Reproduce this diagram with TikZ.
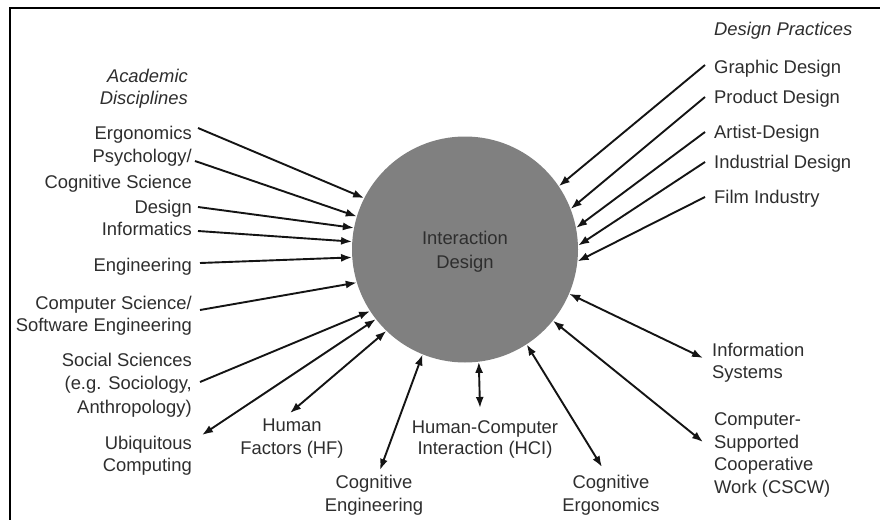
\documentclass[tikz,border=0pt]{standalone}
\usepackage{fontspec}
\setmainfont{Liberation Sans}
\usetikzlibrary{arrows.meta}
\definecolor{txtgray}{HTML}{2E2E2E}
\definecolor{arrowc}{HTML}{141414}
\definecolor{discgray}{HTML}{808080}
\begin{document}
\begin{tikzpicture}[x=1pt,y=-1pt,
  lbl/.style={font=\fontsize{18.4}{22}\selectfont, text=txtgray, inner sep=0pt, yshift=-4pt},
  lft/.style={lbl, anchor=mid east},
  rgt/.style={lbl, anchor=mid west},
  ctr/.style={lbl, anchor=mid},
  ttl/.style={font=\fontsize{18.4}{22}\selectfont\itshape},
  conn/.style={line width=1.9pt, draw=arrowc, -{Latex[length=11pt,width=8pt]}},
  both/.style={line width=1.9pt, draw=arrowc, {Latex[length=11pt,width=8pt]}-{Latex[length=11pt,width=8pt]}},
]
\useasboundingbox (0,0) rectangle (880,519);
\fill[white] (0,0) rectangle (880,519);
% frame
\draw[line width=2.8pt, black] (10,530) -- (10,8) -- (890,8);

% central disc
\node[circle, fill=discgray, minimum size=226pt, inner sep=0pt] (ID) at (465,249.5) {};
\node[font=\fontsize{18.4}{24}\selectfont, text=txtgray, align=center, inner sep=0pt] (idtext) at (465,252) {Interaction\\Design};

% left labels
\node[lft, ttl] (acad1) at (188,76) {Academic};
\node[lft, ttl] (acad2) at (188,98) {Disciplines};
\node[lft] (erg) at (192,133) {Ergonomics};
\node[lft] (psy1) at (192,156) {Psychology/};
\node[lft] (psy2) at (192,182) {Cognitive Science};
\node[lft] (des) at (192,207) {Design};
\node[lft] (inf) at (192,229) {Informatics};
\node[lft] (eng) at (192,265) {Engineering};
\node[lft] (cs1) at (192,303) {Computer Science/};
\node[lft] (cs2) at (192,325) {Software Engineering};
\node[lft] (soc1) at (192,360) {Social Sciences};
\node[lft] (soc2) at (192,383) {(e.g. Sociology,};
\node[lft] (soc3) at (192,407) {Anthropology)};
\node[lft] (ubi1) at (192,443) {Ubiquitous};
\node[lft] (ubi2) at (192,465) {Computing};

% bottom labels
\node[ctr] (hf1) at (292,425) {Human};
\node[ctr] (hf2) at (292,448) {Factors (HF)};
\node[ctr] (ce1) at (374,482) {Cognitive};
\node[ctr] (ce2) at (374,505) {Engineering};
\node[ctr] (hci1) at (485,427) {Human-Computer};
\node[ctr] (hci2) at (485,448) {Interaction (HCI)};
\node[ctr] (cer1) at (611,482) {Cognitive};
\node[ctr] (cer2) at (611,505) {Ergonomics};

% right labels
\node[rgt, ttl] (dp) at (714,29) {Design Practices};
\node[rgt] (gd) at (714,67) {Graphic Design};
\node[rgt] (pd) at (714,97) {Product Design};
\node[rgt] (ad) at (714,132) {Artist-Design};
\node[rgt] (idd) at (714,162) {Industrial Design};
\node[rgt] (fi) at (714,197) {Film Industry};
\node[rgt] (is1) at (712,350) {Information};
\node[rgt] (is2) at (712,372) {Systems};
\node[rgt] (cw1) at (714,419) {Computer-};
\node[rgt] (cw2) at (714,442) {Supported};
\node[rgt] (cw3) at (714,464) {Cooperative};
\node[rgt] (cw4) at (714,487) {Work (CSCW)};

% connector free ends
\coordinate (e1) at (198,128);
\coordinate (e2) at (195,161);
\coordinate (e3) at (198,207);
\coordinate (e4) at (198,231);
\coordinate (e5) at (200,263);
\coordinate (e6) at (200,310);
\coordinate (e7) at (200,382);
\coordinate (e8) at (202,435);
\coordinate (e9) at (290,413);
\coordinate (e10) at (380,470);
\coordinate (e11) at (480,408);
\coordinate (e12) at (602,467);
\coordinate (e13) at (703,358);
\coordinate (e14) at (703,442);
\coordinate (e15) at (705,65);
\coordinate (e16) at (705,97);
\coordinate (e17) at (705,132);
\coordinate (e18) at (705,162);
\coordinate (e19) at (705,197);

% inward connectors
\draw[conn] (e1) -- (ID.153.4);
\draw[conn] (e2) -- (ID.163.3);
\draw[conn] (e3) -- (ID.169.5);
\draw[conn] (e4) -- (ID.176.3);
\draw[conn] (e5) -- (ID.184.7);
\draw[conn] (e6) -- (ID.197.4);
\draw[conn] (e7) -- (ID.213.3);
\draw[conn] (e15) -- (ID.34.2);
\draw[conn] (e16) -- (ID.21.2);
\draw[conn] (e17) -- (ID.11.3);
\draw[conn] (e18) -- (ID.2.2);
\draw[conn] (e19) -- (ID.354.9);

% two-way connectors
\draw[both] (e8) -- (ID.218.9);
\draw[both] (e9) -- (ID.226.6);
\draw[both] (e10) -- (ID.248.4);
\draw[both] (e11) -- (ID.277.6);
\draw[both] (e12) -- (ID.303.4);
\draw[both] (e13) -- (ID.337.5);
\draw[both] (e14) -- (ID.321.3);
\end{tikzpicture}
\end{document}
